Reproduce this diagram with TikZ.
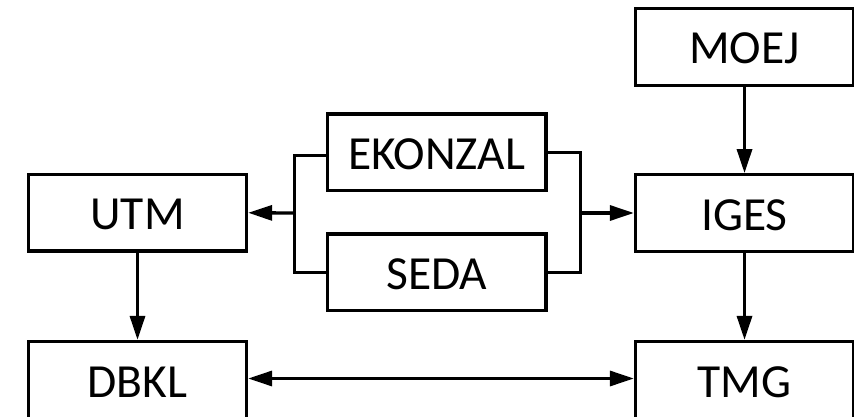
\documentclass[tikz,border=0pt]{standalone}
\usepackage{fontspec}
\setmainfont{Carlito}
\usetikzlibrary{arrows.meta}

\begin{document}
\begin{tikzpicture}[x=1pt,y=-1pt,line width=3.3pt,
  box/.style={draw,rectangle,inner sep=0pt,minimum width=218pt,minimum height=76.5pt,
    text height=34pt,text depth=0pt,font=\fontsize{47.5}{56}\selectfont},
  >={Triangle[length=24pt,width=15pt]}]
\useasboundingbox (0,0) rectangle (854,417);

% left column
\node[box] (utm) at (137.5,212.75) {UTM};
\node[box,minimum height=78pt] (dbkl) at (137.5,380.5) {DBKL};

% middle pair
\node[box,minimum width=218.5pt] (ekonzal) at (436.75,152.25) {EKONZAL};
\node[box,minimum width=218.5pt] (seda) at (436.75,272.25) {SEDA};

% right column
\node[box] (moej) at (744.5,47) {MOEJ};
\node[box] (iges) at (744.5,213) {IGES};
\node[box,minimum height=78pt] (tmg) at (744.5,380.5) {TMG};

% brackets
\coordinate (lj) at (294.5,213);
\coordinate (rj) at (580.5,213);
\draw ([yshift=-3pt]ekonzal.west) -| (lj) |- (seda.west);
\draw (ekonzal.east) -| (rj) |- (seda.east);
\draw[->] (lj) -- (utm.east);
\draw[->] (rj) -- (iges.west);

% vertical arrows
\draw[->] (utm) -- (dbkl);
\draw[->] (moej) -- (iges);
\draw[->] (iges) -- (tmg);

% bottom link
\draw[<->] ([yshift=2pt]dbkl.east) -- ([yshift=2pt]tmg.west);
\end{tikzpicture}
\end{document}
